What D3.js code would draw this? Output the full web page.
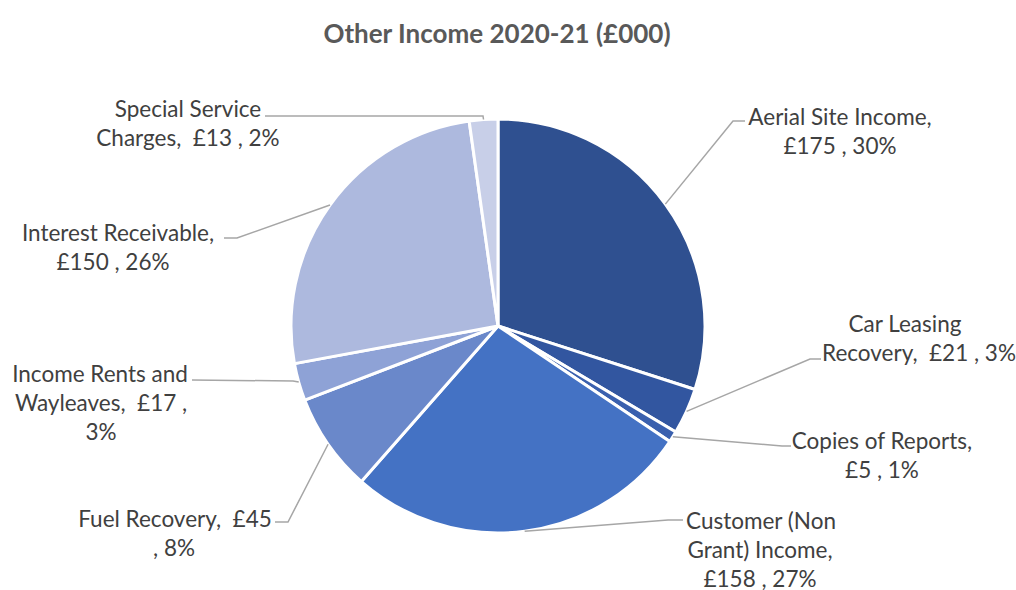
<!DOCTYPE html>
<html lang="en">
<head>
<meta charset="UTF-8">
<title>Other Income 2020-21</title>
<script src="https://d3js.org/d3.v7.min.js"></script>
<style>
  body { margin: 0; background: #fff; }
  text { font-family: Lato, "Open Sans", sans-serif; fill: #404040; white-space: pre; }
  .title { font-weight: bold; fill: #595959; }
  .leader { fill: none; stroke: #a6a6a6; stroke-width: 1.5px; }
</style>
</head>
<body>
<script>
// data
const categories = ["Aerial Site Income", "Car Leasing Recovery", "Copies of Reports",
  "Customer (Non Grant) Income", "Fuel Recovery", "Income Rents and Wayleaves",
  "Interest Receivable", "Special Service Charges"];
const values = [175, 21, 5, 158, 45, 17, 150, 13];
const percents = ["30%", "3%", "1%", "27%", "8%", "3%", "26%", "2%"];
// label text as wrapped in the original
const labelLines = [
  ["Aerial Site Income,", "£175 , 30%"],
  ["Car Leasing", "Recovery,  £21 , 3%"],
  ["Copies of Reports,", "£5 , 1%"],
  ["Customer (Non", "Grant) Income,", "£158 , 27%"],
  ["Fuel Recovery,  £45", ", 8%"],
  ["Income Rents and", "Wayleaves,  £17 ,", "3%"],
  ["Interest Receivable,", "£150 , 26%"],
  ["Special Service", "Charges,  £13 , 2%"]
];
const colors = ["#2f5090", "#3256a0", "#3a60ae", "#4472c4", "#6a88ca", "#8ea2d6", "#adb9de", "#c8cfe8"];

// label layout: elbow of leader line, end of line, first line y, centre x per line
const layout = [
  { elbow: [733, 121], end: [745, 121], ly: 116, lxs: [840, 840] },
  { elbow: [810, 359], end: [821, 359], ly: 323, lxs: [905, 919] },
  { elbow: [782, 446], end: [791, 446], ly: 440, lxs: [882, 882] },
  { elbow: [668, 520], end: [683, 520], ly: 520, lxs: [761, 760, 760] },
  { elbow: [288, 522], end: [275, 522], ly: 518, lxs: [175, 174] },
  { elbow: [293, 381], end: [192, 380], ly: 373, lxs: [100, 101, 101] },
  { elbow: [237, 238], end: [224, 238], ly: 232, lxs: [118, 113] },
  { elbow: [483, 116], end: [265, 116], ly: 108, lxs: [188, 188] }
];

const width = 1016, height = 590;
const cx = 498, cy = 326, radius = 207;

const svg = d3.select("body").append("svg")
  .attr("width", width)
  .attr("height", height);

svg.append("text")
  .attr("class", "title")
  .attr("x", 497)
  .attr("y", 33)
  .attr("text-anchor", "middle")
  .attr("dominant-baseline", "central")
  .style("font-size", "26px")
  .text("Other Income 2020-21 (£000)");

const pie = d3.pie().sort(null).value(d => d)(values);
const arc = d3.arc().innerRadius(0).outerRadius(radius);

const g = svg.append("g").attr("transform", `translate(${cx},${cy})`);

g.selectAll("path.slice")
  .data(pie)
  .join("path")
  .attr("class", "slice")
  .attr("d", arc)
  .attr("fill", (d, i) => colors[i])
  .attr("stroke", "#fff")
  .attr("stroke-width", 3)
  .attr("stroke-linejoin", "round");

// leader lines from slice edge at mid angle
svg.selectAll("path.leader")
  .data(pie)
  .join("path")
  .attr("class", "leader")
  .attr("d", (d, i) => {
    const a = (d.startAngle + d.endAngle) / 2;
    const sx = cx + radius * Math.sin(a);
    const sy = cy - radius * Math.cos(a);
    const L = layout[i];
    return d3.line()([[sx, sy], L.elbow, L.end]);
  });

const labels = svg.selectAll("g.label")
  .data(labelLines)
  .join("g")
  .attr("class", "label");

labels.each(function (lines, i) {
  const L = layout[i];
  d3.select(this).selectAll("text")
    .data(lines)
    .join("text")
    .attr("x", (t, j) => L.lxs[j])
    .attr("y", (t, j) => L.ly + j * 29)
    .attr("text-anchor", "middle")
    .attr("dominant-baseline", "central")
    .style("font-size", "22.5px")
    .text(t => t);
});
</script>
</body>
</html>
